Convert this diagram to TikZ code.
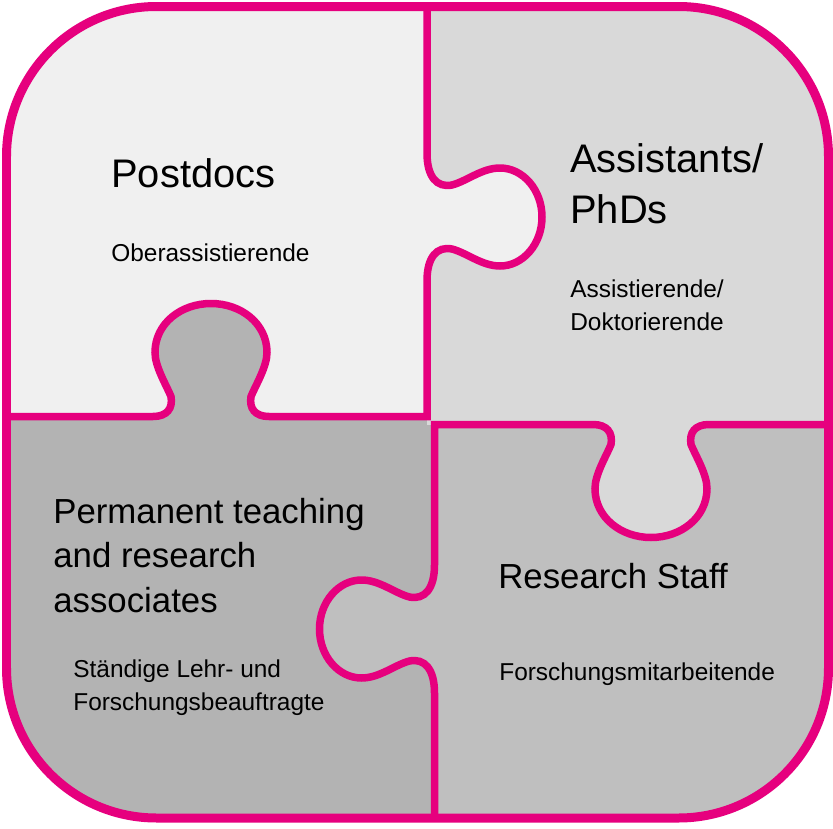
\documentclass[tikz,border=0pt]{standalone}
\usepackage{fontspec}
\setmainfont{Liberation Sans}
\definecolor{puzzlepink}{HTML}{E6007E}
\definecolor{postdocgray}{HTML}{F0F0F0}
\definecolor{assistgray}{HTML}{D9D9D9}
\definecolor{permgray}{HTML}{B3B3B3}
\definecolor{staffgray}{HTML}{BFBFBF}

% knob outlines, in pixel coordinates
\newcommand{\knobpostdoc}{-- (427,153) .. controls (427,177) and (437,188) .. (452,185)
  .. controls (467,181) and (482,168) .. (500,168)
  .. controls (523,168) and (542,190) .. (542,217)
  .. controls (542,244) and (523,266) .. (500,266)
  .. controls (482,266) and (467,253) .. (452,249)
  .. controls (437,246) and (427,257) .. (427,281)}
\newcommand{\knobperm}{-- (269,416.5) .. controls (255,416.5) and (249,408.5) .. (251,396.5)
  .. controls (256,384.5) and (267,366.5) .. (267,352.5)
  .. controls (267,323.5) and (241,303.5) .. (211,303.5)
  .. controls (181,303.5) and (155,323.5) .. (155,352.5)
  .. controls (155,366.5) and (166,384.5) .. (171,396.5)
  .. controls (173,408.5) and (167,416.5) .. (153,416.5)}
\newcommand{\knobassist}{-- (709,424.5) .. controls (695,424.5) and (689,432.5) .. (691,444.5)
  .. controls (696,456.5) and (707,474.5) .. (707,488.5)
  .. controls (707,517.5) and (681,537.5) .. (651,537.5)
  .. controls (621,537.5) and (595,517.5) .. (595,488.5)
  .. controls (595,474.5) and (606,456.5) .. (611,444.5)
  .. controls (613,432.5) and (607,424.5) .. (593,424.5)}
\newcommand{\knobstaff}{-- (434.5,565) .. controls (434.5,589) and (424.5,600) .. (409.5,597)
  .. controls (394.5,593) and (379.5,580) .. (361.5,580)
  .. controls (338.5,580) and (319.5,602) .. (319.5,629)
  .. controls (319.5,656) and (338.5,678) .. (361.5,678)
  .. controls (379.5,678) and (394.5,665) .. (409.5,661)
  .. controls (424.5,658) and (434.5,669) .. (434.5,693)}

\tikzset{
  seam/.style={draw=puzzlepink, line width=0.15cm},
  rim/.style={draw=puzzlepink, line width=0.18cm, rounded corners=3cm},
  bigtitle/.style={font=\fontsize{22.7}{28.9}\selectfont, align=left, inner sep=0, anchor=base west},
  title/.style={font=\fontsize{19.8}{25.2}\selectfont, align=left, inner sep=0, anchor=base west},
  subtitle/.style={font=\fontsize{13.9}{18.4}\selectfont, align=left, inner sep=0, anchor=base west}
}

\begin{document}
\begin{tikzpicture}[x=0.02cm, y=-0.02cm]
  \useasboundingbox (0,0) rectangle (833,829);
  \fill[white] (0,0) rectangle (833,829);

  % pieces
  \begin{scope}
    \clip[rounded corners=3cm] (6.5,6.5) rectangle (828.5,818);
    \fill[postdocgray] (0,0) rectangle (427,416.5);
    \fill[permgray] (0,416.5) rectangle (434.5,829);
    \fill[assistgray] (427,0) rectangle (833,424.5);
    \fill[staffgray] (434.5,424.5) rectangle (833,829);
    \fill[postdocgray] (420,217) -- (420,153) \knobpostdoc -- (420,281) -- cycle;
    \fill[permgray] (211,424) -- (269,424) \knobperm -- (153,424) -- cycle;
    \fill[assistgray] (651,417) -- (709,417) \knobassist -- (593,417) -- cycle;
    \fill[staffgray] (442,629) -- (442,565) \knobstaff -- (442,693) -- cycle;
  \end{scope}

  % seams and rim
  \draw[seam] (427,6.5) \knobpostdoc -- (427,416.5) \knobperm -- (6.5,416.5);
  \draw[seam] (828.5,424.5) \knobassist -- (434.5,424.5) \knobstaff -- (434.5,818);
  \draw[rim] (6.5,6.5) rectangle (828.5,818);

  % labels (multi-line ones sit on their last baseline)
  \node[bigtitle] (postdocs) at (111,187) {Postdocs};
  \node[subtitle] (postdocsde) at (111,261) {Oberassistierende};
  \node[bigtitle] (assistants) at (570,223) {Assistants/\\PhDs};
  \node[subtitle] (assistantsde) at (570,330) {Assistierende/\\Doktorierende};
  \node[title] (permanent) at (53,612) {Permanent teaching\\and research\\associates};
  \node[subtitle] (permanentde) at (73,710) {Ständige Lehr- und\\Forschungsbeauftragte};
  \node[title] (staff) at (498,588) {Research Staff};
  \node[subtitle] (staffde) at (499,680) {Forschungsmitarbeitende};
\end{tikzpicture}
\end{document}
